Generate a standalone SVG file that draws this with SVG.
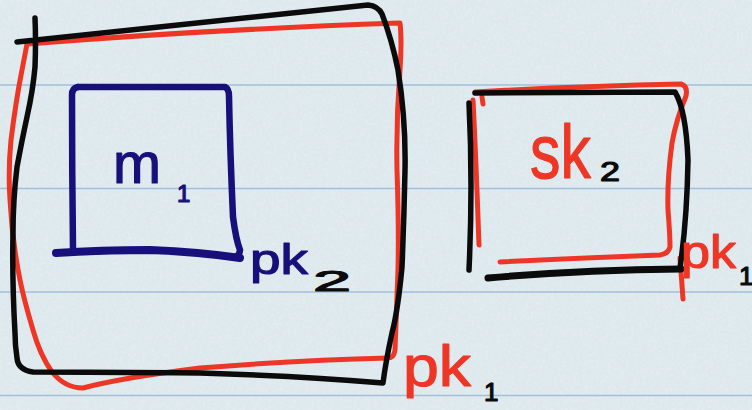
<svg xmlns="http://www.w3.org/2000/svg" width="752" height="410" viewBox="0 0 752 410">
  <defs>
    <filter id="paper" x="0" y="0" width="100%" height="100%">
      <feTurbulence type="fractalNoise" baseFrequency="0.35" numOctaves="3" seed="4" result="n"/>
      <feColorMatrix in="n" type="matrix" values="0 0 0 0 1  0 0 0 0 1  0 0 0 0 1  0 0 0 -1.4 0.75"/>
    </filter>
    <style>
      .rule { stroke: #a2bfdc; stroke-width: 1.6; }
      .ink { fill: none; stroke-linecap: round; stroke-linejoin: round; }
      .black { stroke: #0b0b0b; stroke-width: 5.5; }
      .red { stroke: #ee3626; stroke-width: 5; }
      .navy { stroke: #17107a; stroke-width: 6.5; }
      .lbl { font-family: "Liberation Sans", Arial, sans-serif; stroke-linejoin: round; }
      .t-red { fill: #ee3626; stroke: #ee3626; stroke-width: 1.2; }
      .t-navy { fill: #17107a; stroke: #17107a; stroke-width: 1.2; }
      .t-black { fill: #0b0b0b; stroke: #0b0b0b; stroke-width: 1.2; }
    </style>
  </defs>

  <!-- ruled paper -->
  <rect width="752" height="410" fill="#dee9ee"/>
  <rect width="752" height="410" filter="url(#paper)" opacity="0.35"/>
  <g id="ruling">
    <line class="rule" x1="0" y1="85" x2="752" y2="85"/>
    <line class="rule" x1="0" y1="188.5" x2="752" y2="188.5"/>
    <line class="rule" x1="0" y1="292" x2="752" y2="292"/>
    <line class="rule" x1="0" y1="395.5" x2="752" y2="395.5"/>
  </g>

  <!-- outer box: red outline -->
  <g id="outer-red">
    <path class="ink red" d="M27,44 Q200,30 400,23 Q402,40 400,70 Q396,120 397,170 Q399,230 398,270 Q396,320 395,350 Q394,358 388,358 Q300,360 200,368 Q120,378 83,388 Q65,388 52,372 Q40,355 33,330 Q24,300 20,280 Q12,240 10,200 Q8,170 11,140 Q16,100 22,70 Z"/>
  </g>

  <!-- outer box: black outline -->
  <g id="outer-black">
    <path class="ink black" d="M17,42 Q200,22 368,5 Q378,6 382,14 Q392,40 398,70 Q406,120 405,170 Q404,220 402,267 Q398,310 392,333 Q386,360 383,383 Q300,376 200,373 Q100,372 33,372 Q18,370 17,358 Q15,345 15,333 Q12,280 13,233 Q13,200 17,167 Q22,140 27,117 Q33,90 35,67 Q36,40 35,18"/>
  </g>

  <!-- inner box m1 -->
  <g id="inner-m1">
    <path class="ink navy" d="M78,87 Q150,87 225,87 Q229,89 229,96 Q230,150 233,217 Q236,240 240,250 Q239,258 232,257"/>
    <path class="ink navy" d="M73,248 Q72,170 72,95 Q72,88 78,87"/>
    <path class="ink navy" style="stroke-width:8" d="M240,258 Q200,252 150,250 Q100,250 56,253"/>
    <text class="lbl t-navy" x="113" y="183" font-size="58" textLength="48" lengthAdjust="spacingAndGlyphs">m</text>
    <text class="lbl t-navy" x="177" y="202" font-size="24">1</text>
  </g>

  <!-- label pk2 -->
  <g id="label-pk2">
    <text class="lbl t-navy" x="250" y="274" font-size="42" textLength="58" lengthAdjust="spacingAndGlyphs">pk</text>
    <text class="lbl t-black" x="313" y="291" font-size="30" textLength="38" lengthAdjust="spacingAndGlyphs">2</text>
  </g>

  <!-- label pk1 under the outer box -->
  <g id="label-pk1-outer">
    <text class="lbl t-red" x="403" y="386" font-size="58" textLength="68" lengthAdjust="spacingAndGlyphs">pk</text>
    <text class="lbl t-black" x="484" y="401" font-size="26">1</text>
  </g>

  <!-- small box sk2 -->
  <g id="small-box">
    <path class="ink red" d="M475,92 Q580,86 681,84 Q688,86 686,96 Q676,120 672,143 Q667,180 668,210 Q670,235 670,247 Q668,254 660,255 Q580,258 500,262"/>
    <path class="ink red" d="M473,100 Q476,160 479,245"/>
    <path class="ink red" d="M482,97 L483,104"/>
    <path class="ink red" d="M680,258 L683,299"/>
    <path class="ink black" d="M475,93 L675,92 Q686,110 688,160 Q687,220 680,268"/>
    <path class="ink black" d="M469,103 Q473,185 469,270"/>
    <path class="ink black" style="stroke-width:7" d="M681,269 Q580,270 488,278"/>
    <text class="lbl t-red" transform="translate(530 178) scale(0.8 1)" font-size="76">sk</text>
    <text class="lbl t-black" x="600" y="181" font-size="27" textLength="20" lengthAdjust="spacingAndGlyphs">2</text>
  </g>

  <!-- label pk1 beside the small box -->
  <g id="label-pk1-small">
    <text class="lbl t-red" x="681" y="268" font-size="46" textLength="55" lengthAdjust="spacingAndGlyphs">pk</text>
    <text class="lbl t-black" x="739" y="285" font-size="26">1</text>
  </g>
</svg>
